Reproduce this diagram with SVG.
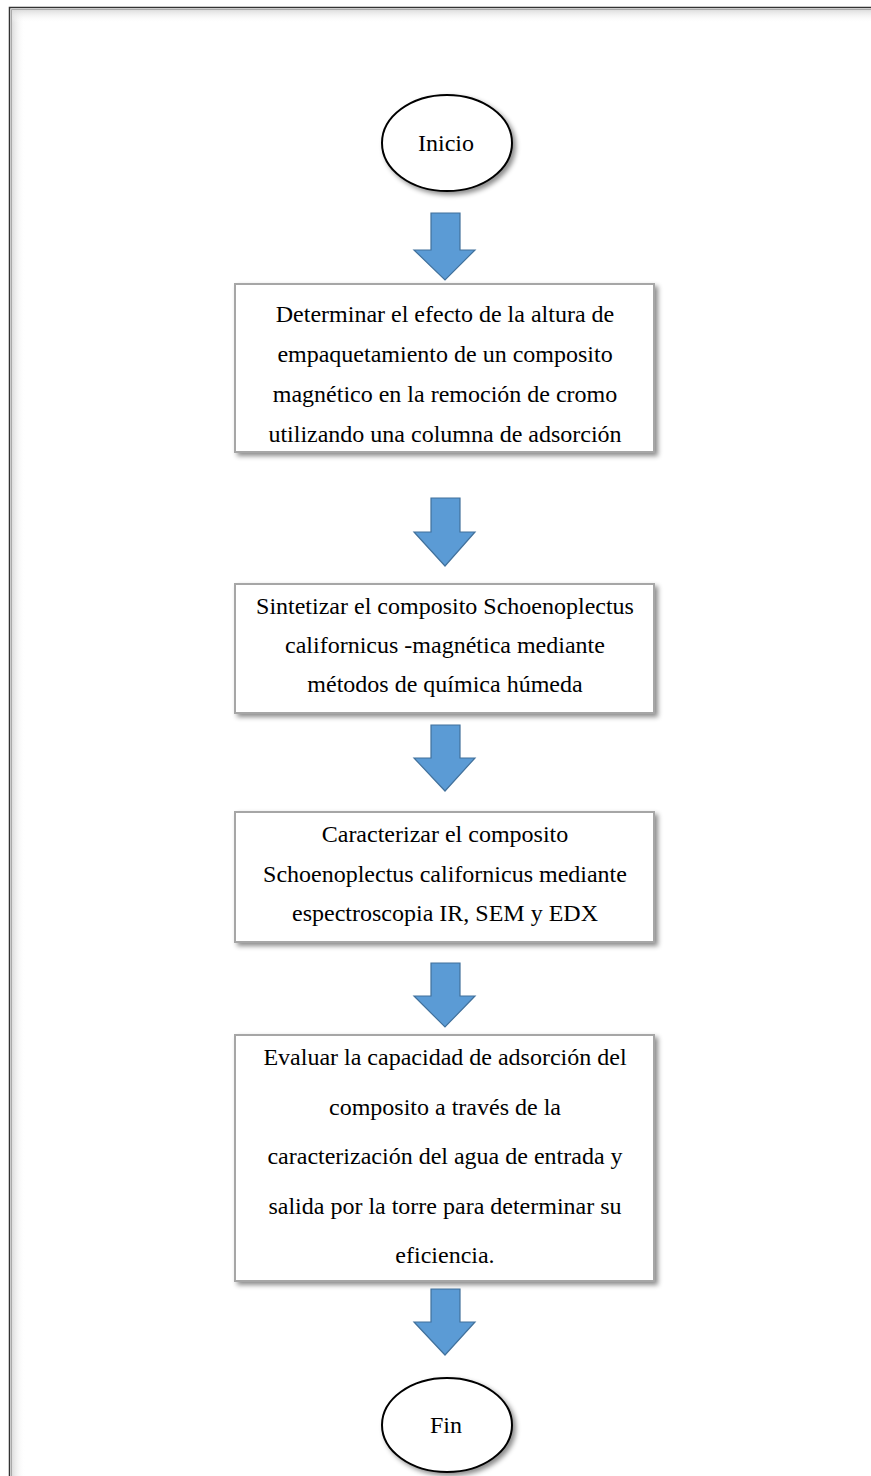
<svg xmlns="http://www.w3.org/2000/svg" width="871" height="1476" viewBox="0 0 871 1476">
<style>
.box{fill:#fff;stroke:#a6a6a6;stroke-width:2;filter:url(#sh)}
.ell{fill:#fff;stroke:#000;stroke-width:2;filter:url(#sh)}
.t{font-family:"Liberation Serif","Times New Roman",serif;font-size:24px;fill:#000;text-anchor:middle}
.arr{fill:#5b9bd5;stroke:#41719c;stroke-width:1.2}
</style>
<defs>
<filter id="sh" x="-10%" y="-10%" width="130%" height="130%">
<feDropShadow dx="3" dy="3" stdDeviation="2.5" flood-color="#000" flood-opacity="0.45"/>
</filter>
<linearGradient id="gl" x1="0" x2="1" y1="0" y2="0">
<stop offset="0" stop-color="#d8d8d8"/><stop offset="1" stop-color="#fff" stop-opacity="0"/>
</linearGradient>
<linearGradient id="gt" x1="0" x2="0" y1="0" y2="1">
<stop offset="0" stop-color="#d8d8d8"/><stop offset="1" stop-color="#fff" stop-opacity="0"/>
</linearGradient>
</defs>
<rect width="871" height="1476" fill="#fff"/>
<g id="frame">
<rect x="11" y="9" width="14" height="1467" fill="url(#gl)"/>
<rect x="11" y="9" width="860" height="14" fill="url(#gt)"/>
<path d="M9.5 1476 V7.5 H871" fill="none" stroke="#333" stroke-width="1.5"/>
<path d="M11.5 1476 V9.5 H871" fill="none" stroke="#aaa" stroke-width="1"/>
</g>
<g id="connectors">
<polygon class="arr" points="431,213 460,213 460,250 475,250 445,280 414,250 431,250"/>
<polygon class="arr" points="431,498 460,498 460,532 475,532 445,566 414,532 431,532"/>
<polygon class="arr" points="431,725 460,725 460,758 475,758 445,791 414,758 431,758"/>
<polygon class="arr" points="431,963 460,963 460,996 475,996 445,1027 414,996 431,996"/>
<polygon class="arr" points="431,1289 460,1289 460,1322 475,1322 445,1355 414,1322 431,1322"/>
</g>
<g id="inicio">
<ellipse class="ell" cx="447" cy="143" rx="65" ry="48"/>
<text class="t" x="446" y="151">Inicio</text>
</g>
<g id="paso1">
<rect class="box" x="235" y="284" width="419" height="168"/>
<text class="t" x="445" y="322">Determinar el efecto de la altura de</text>
<text class="t" x="445" y="362">empaquetamiento de un composito</text>
<text class="t" x="445" y="402">magnético en la remoción de cromo</text>
<text class="t" x="445" y="442">utilizando una columna de adsorción</text>
</g>
<g id="paso2">
<rect class="box" x="235" y="584" width="419" height="129"/>
<text class="t" x="445" y="614">Sintetizar el composito Schoenoplectus</text>
<text class="t" x="445" y="653">californicus -magnética mediante</text>
<text class="t" x="445" y="692">métodos de química húmeda</text>
</g>
<g id="paso3">
<rect class="box" x="235" y="812" width="419" height="130"/>
<text class="t" x="445" y="842">Caracterizar el composito</text>
<text class="t" x="445" y="882">Schoenoplectus californicus mediante</text>
<text class="t" x="445" y="921">espectroscopia IR, SEM y EDX</text>
</g>
<g id="paso4">
<rect class="box" x="235" y="1035" width="419" height="246"/>
<text class="t" x="445" y="1065">Evaluar la capacidad de adsorción del</text>
<text class="t" x="445" y="1115">composito a través de la</text>
<text class="t" x="445" y="1164">caracterización del agua de entrada y</text>
<text class="t" x="445" y="1214">salida por la torre para determinar su</text>
<text class="t" x="445" y="1263">eficiencia.</text>
</g>
<g id="fin">
<ellipse class="ell" cx="447" cy="1425" rx="65" ry="47"/>
<text class="t" x="446" y="1433">Fin</text>
</g>
</svg>
